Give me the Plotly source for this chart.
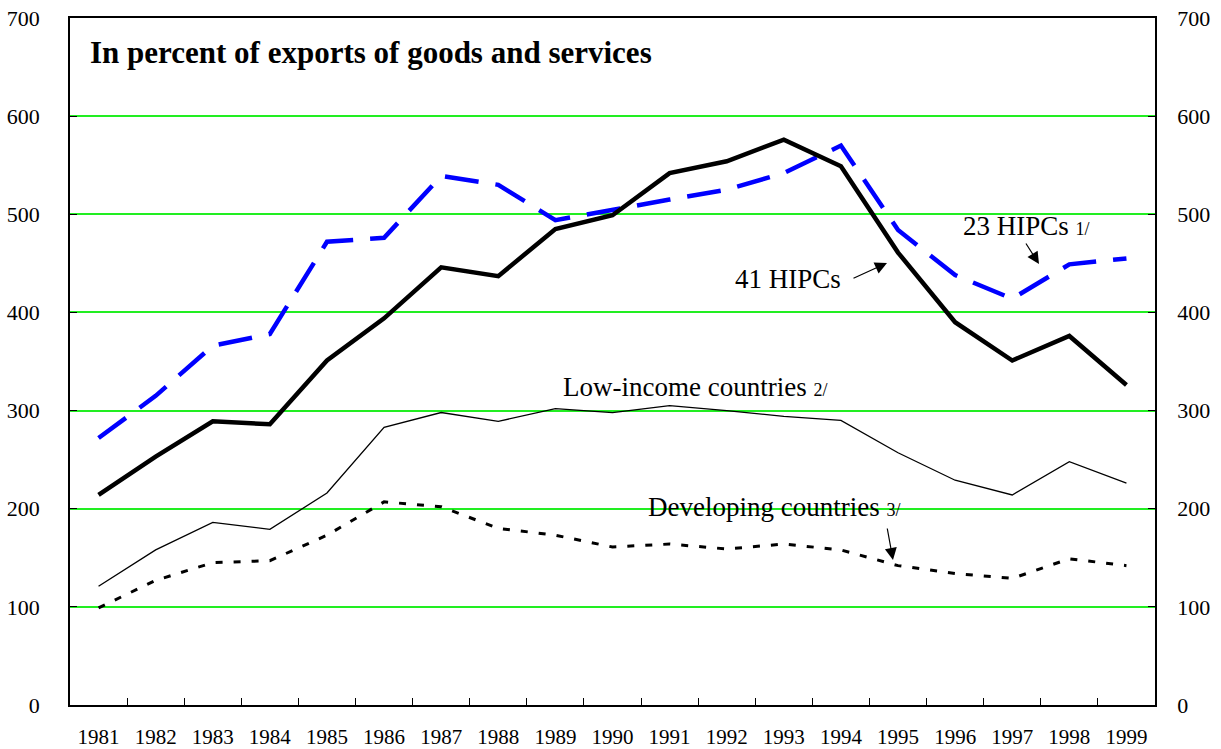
import plotly.graph_objects as go

years = [str(y) for y in range(1981, 2000)]
hipc41 = [214, 253, 289, 286, 351, 394, 446, 437, 485, 499, 542, 554, 576, 549, 461, 390, 351, 376, 326]
hipc23 = [272, 315, 366, 378, 472, 476, 539, 530, 494, 505, 515, 525, 542, 570, 484, 438, 414, 449, 455]
low_income = [121, 158, 186, 179, 216, 283, 298, 289, 302, 298, 305, 300, 294, 290, 257, 229, 214, 248, 226]
developing = [99, 127, 145, 147, 173, 207, 202, 180, 173, 161, 164, 159, 164, 158, 142, 134, 129, 149, 142]
y_ticks = [0, 100, 200, 300, 400, 500, 600, 700]

FONT = "Liberation Serif, Times New Roman, serif"
W, H = 1221, 749
L, R, T, B = 70, 1155, 18, 705

def px(x):
    return (x - L) / (R - L)

def py(y):
    return (B - y) / (B - T)

fig = go.Figure()
fig.add_trace(go.Scatter(x=years, y=low_income, mode="lines", line=dict(color="black", width=1.3), name="Low-income countries 2/"))
fig.add_trace(go.Scatter(x=years, y=developing, mode="lines", line=dict(color="black", width=3, dash="7px,11px"), name="Developing countries 3/"))
fig.add_trace(go.Scatter(x=years, y=hipc23, mode="lines", line=dict(color="#0000FF", width=4.5, dash="34px,17px"), name="23 HIPCs 1/"))
fig.add_trace(go.Scatter(x=years, y=hipc41, mode="lines", line=dict(color="black", width=4.5), name="41 HIPCs"))
# invisible trace to anchor the right-hand axis
fig.add_trace(go.Scatter(x=years, y=hipc41, mode="lines", line=dict(color="rgba(0,0,0,0)", width=0), yaxis="y2", hoverinfo="skip", showlegend=False))

axis_font = dict(family=FONT, size=22, color="black")
fig.update_layout(
    width=W, height=H,
    margin=dict(l=L, r=W - R, t=T, b=H - B, autoexpand=False),
    paper_bgcolor="white", plot_bgcolor="white",
    showlegend=False,
    xaxis=dict(type="category", range=[-0.5, len(years) - 0.5], tickson="boundaries", ticks="inside", ticklen=7, tickcolor="black",
               showline=True, linecolor="black", linewidth=1.5, mirror=True, showgrid=False, automargin=False,
               tickfont=dict(family=FONT, size=21, color="black"), ticklabelstandoff=12),
    yaxis=dict(range=[0, 700], tickvals=y_ticks, ticks="inside", ticklen=7, tickcolor="black",
               showline=True, linecolor="black", linewidth=1.5, showgrid=True, gridcolor="#22EE22", gridwidth=1.5,
               zeroline=False, tickfont=axis_font, ticklabelstandoff=24, automargin=False),
    yaxis2=dict(range=[0, 700], tickvals=y_ticks, overlaying="y", side="right", ticks="inside", ticklen=7,
                tickcolor="black", showline=True, linecolor="black", linewidth=1.5, showgrid=False,
                zeroline=False, tickfont=axis_font, ticklabelstandoff=16, automargin=False),
)

def text_ann(x, y, text, size=27, bold=False):
    fig.add_annotation(x=px(x), y=py(y), xref="paper", yref="paper", text=("<b>%s</b>" % text) if bold else text,
                       showarrow=False, xanchor="left", yanchor="middle",
                       font=dict(family=FONT, size=size, color="black"))

def arrow_ann(hx, hy, tx, ty):
    fig.add_annotation(x=px(hx), y=py(hy), xref="paper", yref="paper", text="", showarrow=True,
                       ax=tx - hx, ay=ty - hy, axref="pixel", ayref="pixel",
                       arrowhead=2, arrowsize=2, arrowwidth=1.2, arrowcolor="black")

small = "<span style='font-size:18px'>%s</span>"
text_ann(88, 52, "In percent of exports of goods and services", size=31, bold=True)
text_ann(733, 279, "41 HIPCs")
text_ann(961, 226, "23 HIPCs " + small % "1/")
text_ann(561, 387, "Low-income countries " + small % "2/")
text_ann(646, 507, "Developing countries " + small % "3/")
arrow_ann(887, 263, 852, 279)
arrow_ann(1039, 264, 1025, 242)
arrow_ann(893, 560, 887, 527)

fig.write_html("out.html", config={"displayModeBar": False}, post_script="document.body.style.margin='0';")
